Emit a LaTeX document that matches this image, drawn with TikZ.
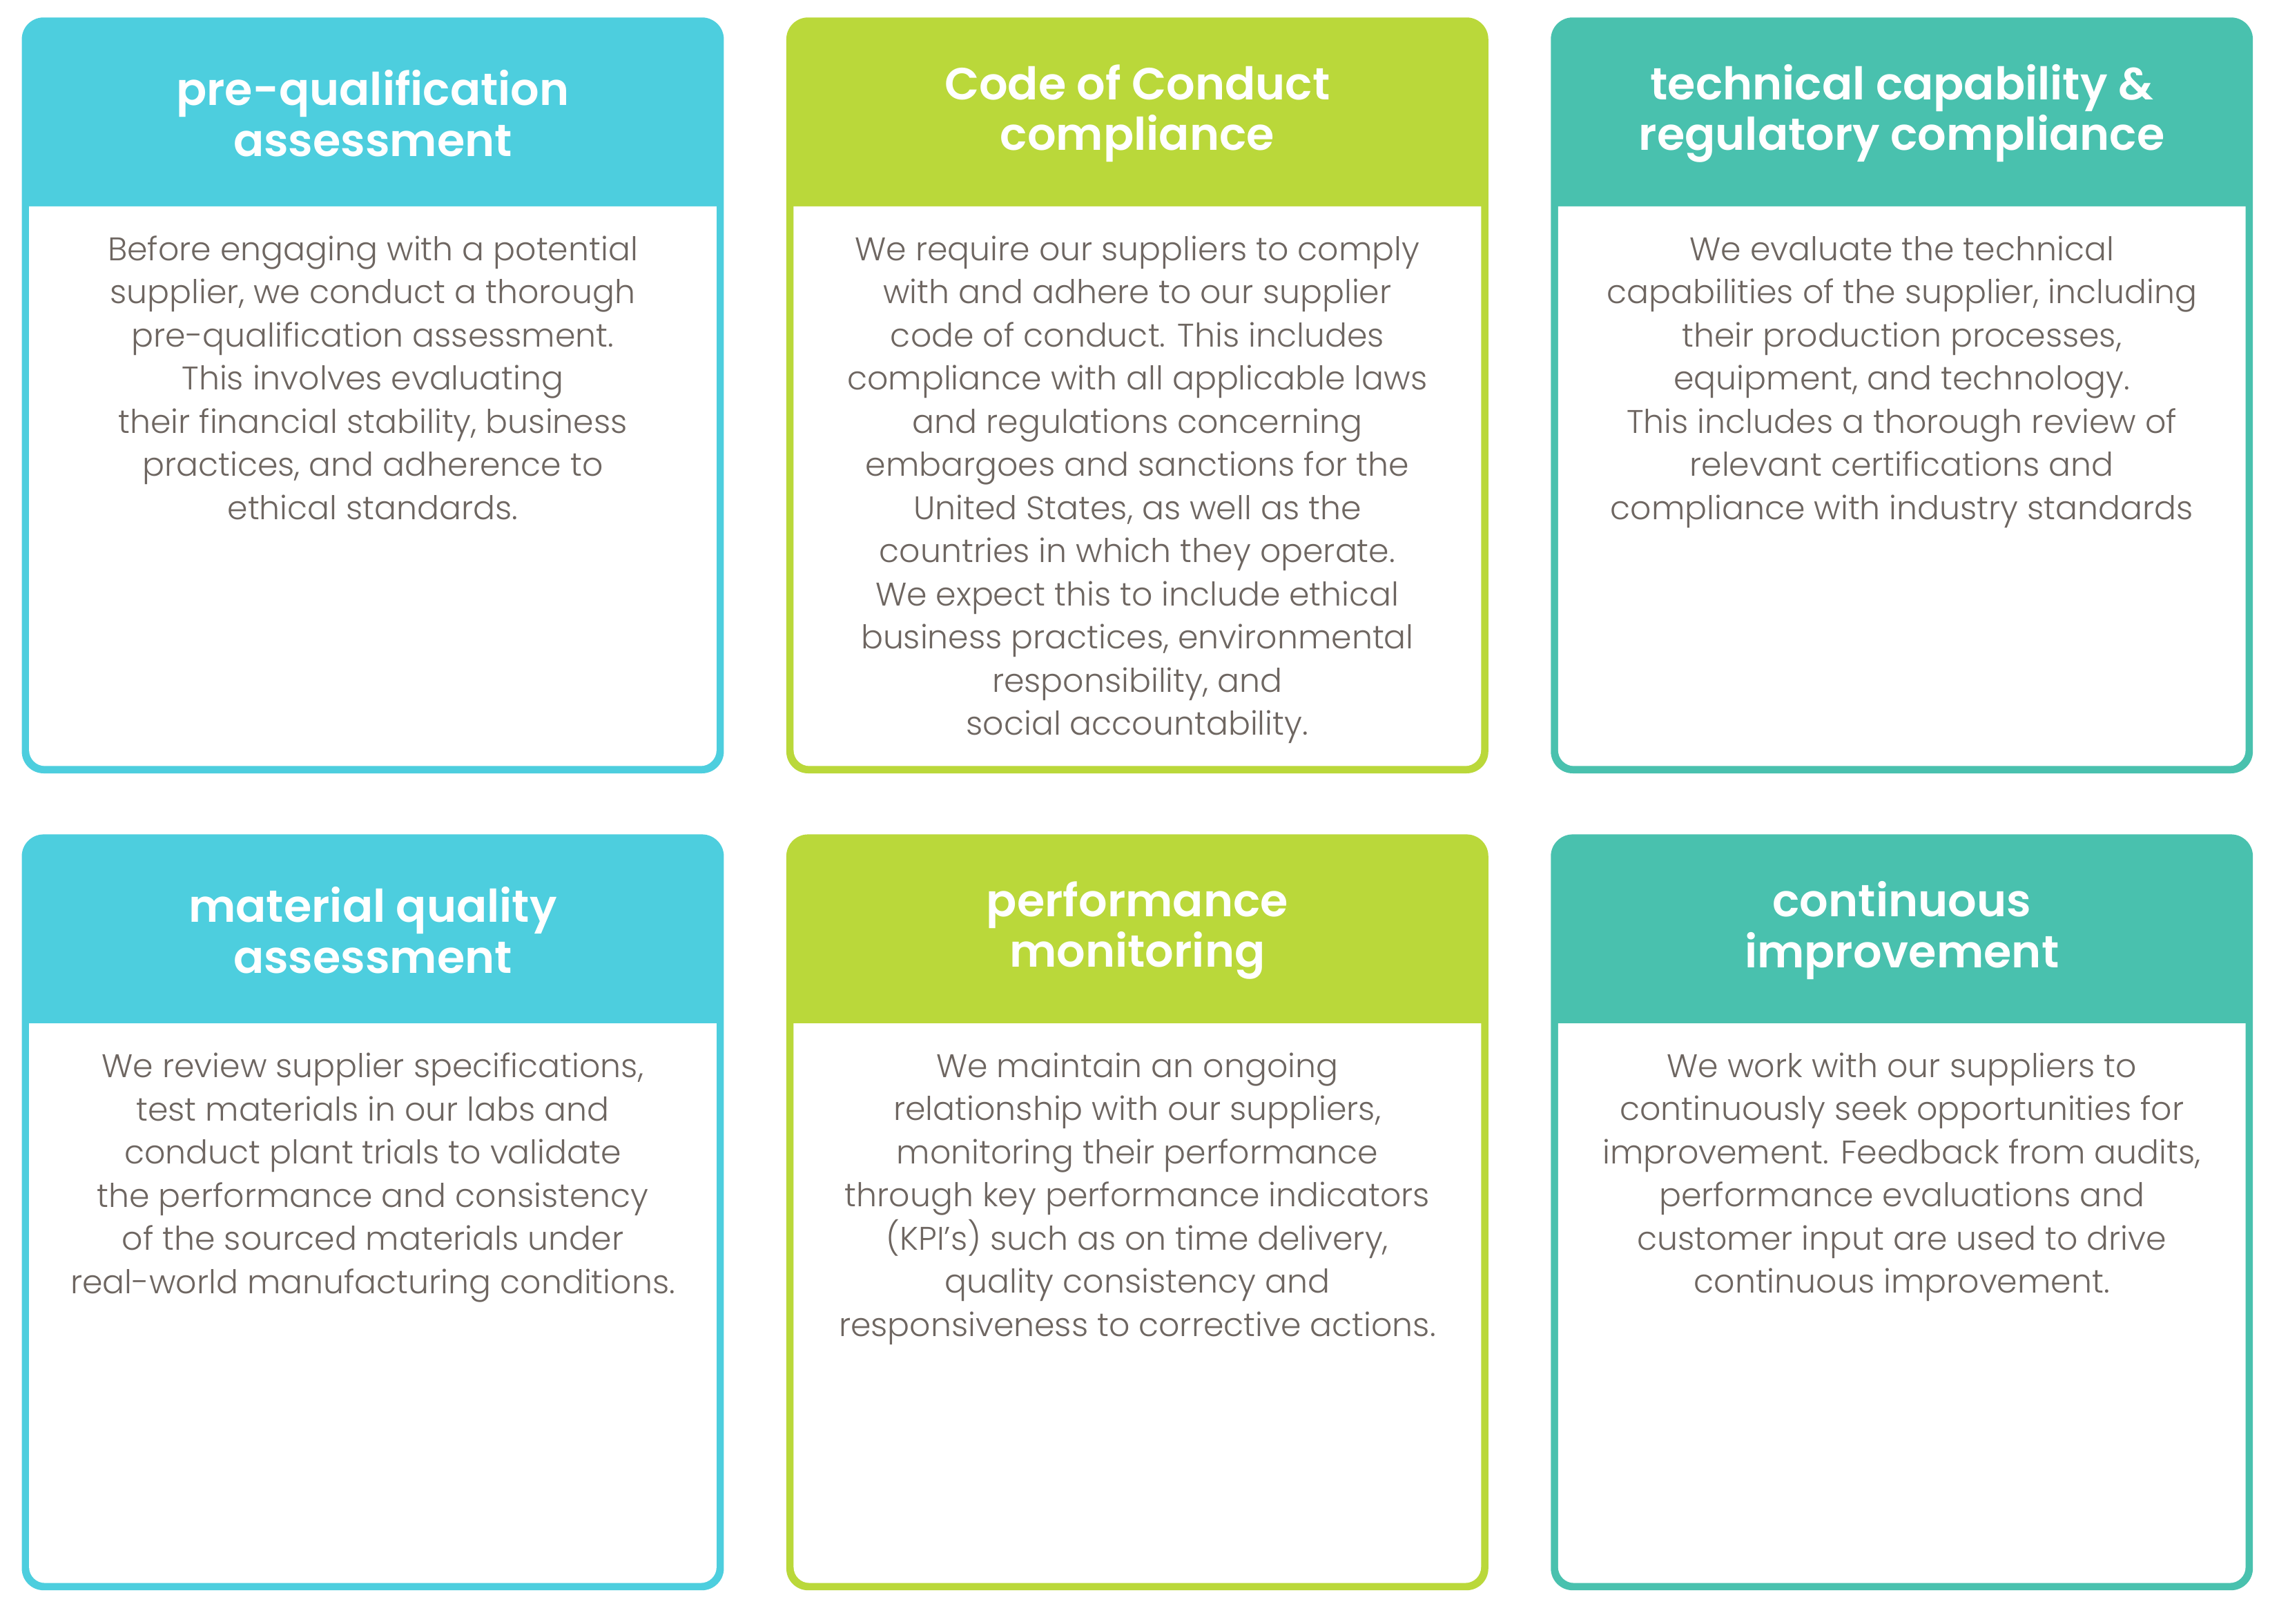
\documentclass[tikz,border=0pt]{standalone}
\usepackage{fontspec}
\setmainfont{Poppins}
\newfontfamily\headf{Poppins}[UprightFont=* SemiBold]
\newfontfamily\bodyf{Poppins}[UprightFont=* Light]
\definecolor{ccyan}{HTML}{4DCEDE}
\definecolor{clime}{HTML}{BAD83A}
\definecolor{cteal}{HTML}{49C1AE}
\definecolor{ctxt}{HTML}{6E6661}
\tikzset{
 headtxt/.style={text=white,align=center,font=\headf\fontsize{31}{35}\selectfont,inner sep=0},
 bodytxt/.style={text=ctxt,align=center,font=\bodyf\fontsize{22.5}{29.7}\selectfont,inner sep=0,anchor=north},
}
\newcommand{\mycard}[6]{%
 % #1 x0, #2 y0, #3 colour, #4 name, #5 title, #6 body
 \fill[#3,rounded corners=15] (#1,#2) rectangle ++(483,520);
 \fill[white] (#1+5,#2+130) -- (#1+478,#2+130) [rounded corners=11] -- (#1+478,#2+515) -- (#1+5,#2+515) [sharp corners] -- cycle;
 \node[headtxt] (#4h) at (#1+241.5,#2+66) {#5};
 \node[bodytxt] (#4b) at (#1+241.5,#2+150) {#6};
}
\begin{document}
\begin{tikzpicture}[x=1pt,y=-1pt]
\useasboundingbox[fill=white] (0,0) rectangle (1568,1117);
\mycard{15}{12}{ccyan}{a}{pre-qualification\\assessment}{Before engaging with a potential\\supplier, we conduct a thorough\\pre-qualification assessment.\\This involves evaluating\\their financial stability, business\\practices, and adherence to\\ethical standards.}
\mycard{541}{12}{clime}{b}{Code of Conduct\\compliance}{We require our suppliers to comply\\with and adhere to our supplier\\code of conduct. This includes\\compliance with all applicable laws\\and regulations concerning\\embargoes and sanctions for the\\United States, as well as the\\countries in which they operate.\\We expect this to include ethical\\business practices, environmental\\responsibility, and\\social accountability.}
\mycard{1067}{12}{cteal}{c}{technical capability \&\\regulatory compliance}{We evaluate the technical\\capabilities of the supplier, including\\their production processes,\\equipment, and technology.\\This includes a thorough review of\\relevant certifications and\\compliance with industry standards}
\mycard{15}{574}{ccyan}{d}{material quality\\assessment}{We review supplier specifications,\\test materials in our labs and\\conduct plant trials to validate\\the performance and consistency\\of the sourced materials under\\real-world manufacturing conditions.}
\mycard{541}{574}{clime}{e}{performance\\monitoring}{We maintain an ongoing\\relationship with our suppliers,\\monitoring their performance\\through key performance indicators\\(KPI’s) such as on time delivery,\\quality consistency and\\responsiveness to corrective actions.}
\mycard{1067}{574}{cteal}{f}{continuous\\improvement}{We work with our suppliers to\\continuously seek opportunities for\\improvement. Feedback from audits,\\performance evaluations and\\customer input are used to drive\\continuous improvement.}
\end{tikzpicture}
\end{document}
